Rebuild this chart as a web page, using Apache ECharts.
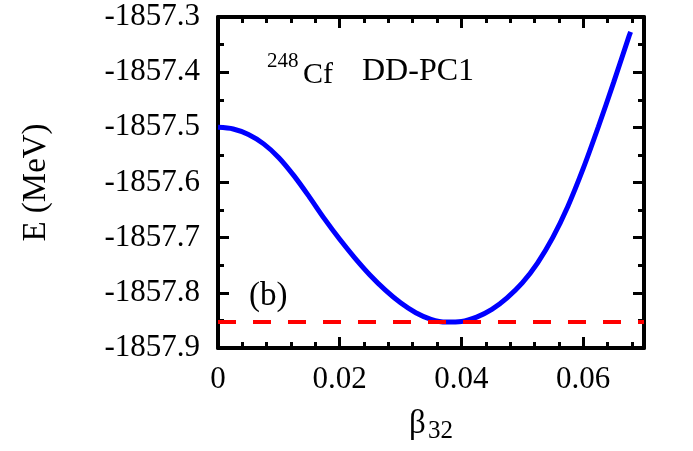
<!DOCTYPE html>
<html>
<head>
<meta charset="utf-8">
<script src="https://cdn.jsdelivr.net/npm/echarts@6/dist/echarts.min.js"></script>
<style>
html,body{margin:0;padding:0;background:#fff;}
#main{width:693px;height:451px;}
</style>
</head>
<body>
<div id="main"></div>
<script>
// Data
const beta = [0, 0.0025, 0.005, 0.0075, 0.01, 0.0125, 0.015, 0.0175, 0.02, 0.0225, 0.025, 0.0275, 0.03, 0.0325, 0.035,
              0.0375, 0.04, 0.0425, 0.045, 0.0475, 0.05, 0.0525, 0.055, 0.0575, 0.06, 0.0625, 0.065, 0.0675, 0.0678];
const energy = [-1857.500, -1857.503, -1857.513, -1857.530, -1857.555, -1857.588, -1857.626, -1857.666, -1857.703, -1857.737,
                -1857.768, -1857.795, -1857.818, -1857.836, -1857.848, -1857.853, -1857.852, -1857.844, -1857.830, -1857.809,
                -1857.782, -1857.746, -1857.700, -1857.643, -1857.575, -1857.499, -1857.419, -1857.336, -1857.327];
const refBeta = [0, 0.07];
const refEnergy = [-1857.853, -1857.853];
const xTickLabels = ['0', '0.02', '0.04', '0.06'];
const yTickLabels = ['-1857.9', '-1857.8', '-1857.7', '-1857.6', '-1857.5', '-1857.4', '-1857.3'];

const FONT = 'Liberation Serif';
const chart = echarts.init(document.getElementById('main'));

function axisBase(pos, min, max, interval, major, showLabel, labels) {
  return {
    type: 'value', position: pos, min: min, max: max, interval: interval,
    splitLine: {show: false},
    axisLine: {show: major, onZero: false, lineStyle: {color: '#000', width: 4}},
    axisTick: {show: true, inside: true, length: major ? 11 : 6, lineStyle: {color: '#000', width: 3}},
    axisLabel: {show: showLabel, color: '#000', fontFamily: FONT, fontSize: 31,
      showMaxLabel: false,
      formatter: function (v) {
        const idx = Math.round((v - min) / interval);
        return labels && labels[idx] !== undefined ? labels[idx] : '';
      }}
  };
}

const xMain = axisBase('bottom', 0, 0.07, 0.02, true, true, xTickLabels);
xMain.axisLabel.margin = 16;
xMain.name = '{a|β}{s|32}';
xMain.nameLocation = 'middle';
xMain.nameGap = 56;
xMain.nameTextStyle = {color: '#000', fontFamily: FONT,
  rich: {a: {fontSize: 33, fontFamily: FONT, color: '#000', lineHeight: 40, verticalAlign: 'middle'},
         s: {fontSize: 25, fontFamily: FONT, color: '#000', lineHeight: 16, verticalAlign: 'bottom', padding: [0,0,0,2]}}};

const yMain = axisBase('left', -1857.9, -1857.3, 0.1, true, true, yTickLabels);
yMain.axisLabel.showMaxLabel = true;
yMain.axisLabel.margin = 18;
yMain.name = 'E (MeV)';
yMain.nameLocation = 'middle';
yMain.nameGap = 165;
yMain.nameTextStyle = {color: '#000', fontFamily: FONT, fontSize: 33};

const option = {
  animation: false,
  backgroundColor: '#fff',
  grid: {left: 218, right: 49, top: 17, bottom: 103, containLabel: false},
  xAxis: [
    xMain,
    axisBase('bottom', 0, 0.07, 0.004, false, false),
    axisBase('top', 0, 0.07, 0.02, true, false),
    axisBase('top', 0, 0.07, 0.004, false, false)
  ],
  yAxis: [
    yMain,
    axisBase('left', -1857.9, -1857.3, 0.05, false, false),
    axisBase('right', -1857.9, -1857.3, 0.1, true, false),
    axisBase('right', -1857.9, -1857.3, 0.05, false, false)
  ],
  graphic: [
    {type: 'text', left: 267, top: 51, style: {text: '248', font: '21px "Liberation Serif"', fill: '#000'}},
    {type: 'text', left: 303, top: 60, style: {text: 'Cf', font: '30px "Liberation Serif"', fill: '#000'}},
    {type: 'text', left: 362, top: 56, style: {text: 'DD-PC1', font: '32px "Liberation Serif"', fill: '#000'}},
    {type: 'text', left: 249, top: 280, style: {text: '(b)', font: '33px "Liberation Serif"', fill: '#000'}}
  ],
  series: [
    {type: 'line', xAxisIndex: 0, yAxisIndex: 0, smooth: 0.3, showSymbol: false, z: 3,
     lineStyle: {color: '#0000ff', width: 5},
     data: beta.map((b, i) => [b, energy[i]])},
    {type: 'line', xAxisIndex: 0, yAxisIndex: 0, showSymbol: false, z: 4,
     lineStyle: {color: '#ff0000', width: 4, type: [18, 17]},
     data: refBeta.map((b, i) => [b, refEnergy[i]])}
  ]
};
chart.setOption(option);
</script>
</body>
</html>
